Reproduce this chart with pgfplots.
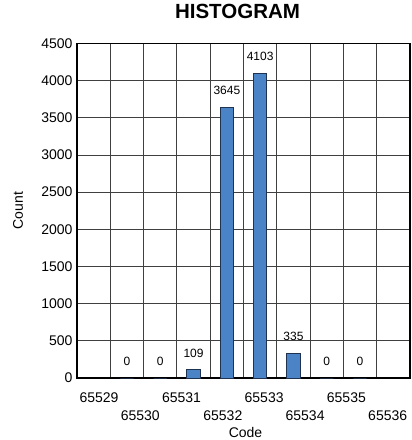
\documentclass[border=0pt]{standalone}
\usepackage{pgfplots}
\pgfplotsset{compat=1.18}
\usepackage{fontspec}
\setmainfont{Liberation Sans}
\definecolor{barfill}{HTML}{4A84C6}
\definecolor{baredge}{HTML}{1F3350}
\begin{document}
\begin{tikzpicture}
\useasboundingbox (-77pt,-62pt) rectangle (335pt,378pt);
\begin{axis}[
  at={(0pt,0pt)}, anchor=south west,
  scale only axis, width=333pt, height=334.5pt,
  xmin=0, xmax=10, ymin=0, ymax=4500,
  ybar, bar width=13.3pt, bar shift=0pt,
  ytick={0,500,...,4500},
  xtick={0.66,3.14,5.62,8.09},
  xticklabels={65529,65531,65533,65535},
  extra x ticks={1.90,4.38,6.85,9.33},
  extra x tick labels={65530,65532,65534,65536},
  extra x tick style={grid=none, xticklabel style={yshift=-18pt}},
  minor xtick={1,2,...,9},
  xminorgrids=true, ymajorgrids=true, xmajorgrids=false,
  major tick length=0pt, minor tick length=0pt,
  major grid style={black!75, line width=0.8pt},
  minor grid style={black!75, line width=0.8pt},
  axis line style={line width=1.8pt},
  /pgf/number format/1000 sep={},
  /pgf/number format/assume math mode=true,
  ticklabel style={font=\fontsize{14}{16}\selectfont},
  xticklabel style={anchor=center, yshift=-20pt},
  yticklabel style={xshift=-1pt},
  ylabel={Count}, ylabel style={font=\fontsize{14}{16}\selectfont, at={(axis description cs:-0.177,0.5)}, anchor=center},
  xlabel={Code}, xlabel style={font=\fontsize{14}{16}\selectfont, at={(axis description cs:0.506,0)}, anchor=center, yshift=-54pt},
  title={\textbf{HISTOGRAM}}, title style={font=\fontsize{20.5}{24}\selectfont\bfseries, at={(axis description cs:0.482,1)}, anchor=center, yshift=25.7pt},
  nodes near coords,
  nodes near coords style={font=\fontsize{12}{14}\selectfont, anchor=center, yshift=17pt, black},
]
\addplot[fill=barfill, draw=baredge, line width=0.8pt] coordinates {
  (1.5,0) (2.5,0) (3.5,109) (4.5,3645) (5.5,4103) (6.5,335) (7.5,0) (8.5,0)
};
\end{axis}
\end{tikzpicture}
\end{document}
